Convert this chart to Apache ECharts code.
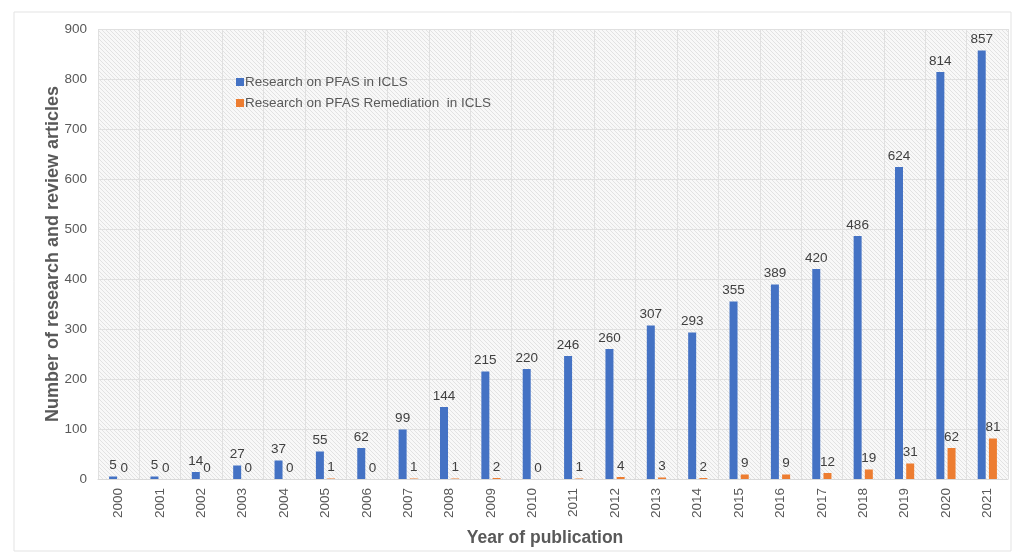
<!DOCTYPE html>
<html>
<head>
<meta charset="utf-8">
<script src="https://cdn.jsdelivr.net/npm/echarts@6/dist/echarts.min.js"></script>
<style>
  html, body { margin: 0; padding: 0; background: #fff; }
  #chart { width: 1025px; height: 558px; }
</style>
</head>
<body>
<div id="chart"></div>
<script>
"use strict";

var years = ['2000','2001','2002','2003','2004','2005','2006','2007','2008','2009','2010',
             '2011','2012','2013','2014','2015','2016','2017','2018','2019','2020','2021'];
var pfasIcls = [5, 5, 14, 27, 37, 55, 62, 99, 144, 215, 220, 246, 260, 307, 293, 355, 389, 420, 486, 624, 814, 857];
var pfasRemediation = [0, 0, 0, 0, 0, 1, 0, 1, 1, 2, 0, 1, 4, 3, 2, 9, 9, 12, 19, 31, 62, 81];

// light diagonal hatch for the plot area
function makeHatch() {
    var c = document.createElement('canvas');
    c.width = 4;
    c.height = 4;
    var ctx = c.getContext('2d');
    ctx.fillStyle = '#f8f8f8';
    ctx.fillRect(0, 0, 4, 4);
    ctx.strokeStyle = '#e2e2e2';
    ctx.lineWidth = 1;
    ctx.beginPath();
    ctx.moveTo(0, 0); ctx.lineTo(4, 4);
    ctx.moveTo(-1, 3); ctx.lineTo(1, 5);
    ctx.moveTo(3, -1); ctx.lineTo(5, 1);
    ctx.stroke();
    return c;
}

var chart = echarts.init(document.getElementById('chart'));

var labelStyle = {
    show: true,
    position: 'top',
    distance: 4,
    color: '#404040',
    fontSize: 13.5,
    fontFamily: 'Liberation Sans'
};

var option = {
    animation: false,
    textStyle: { fontFamily: 'Liberation Sans' },
    graphic: [{
        type: 'rect',
        shape: { x: 14, y: 12, width: 997, height: 539 },
        style: { fill: 'none', stroke: '#e3e3e3', lineWidth: 1 },
        z: -10
    }],
    grid: {
        left: 98,
        right: 17,
        top: 29,
        bottom: 79,
        show: true,
        borderWidth: 0,
        backgroundColor: { image: makeHatch(), repeat: 'repeat' }
    },
    legend: {
        orient: 'vertical',
        left: 231,
        top: 70,
        itemWidth: 8,
        itemHeight: 8,
        itemGap: 7,
        icon: 'rect',
        textStyle: { color: '#595959', fontSize: 13.5, padding: [0, 0, 0, -4] },
        data: ['Research on PFAS in ICLS', 'Research on PFAS Remediation  in ICLS']
    },
    xAxis: {
        type: 'category',
        data: years,
        name: 'Year of publication',
        nameLocation: 'middle',
        nameGap: 50,
        nameMoveOverlap: false,
        nameTextStyle: { color: '#595959', fontSize: 17.5, fontWeight: 'bold', padding: [0, 16, 0, 0] },
        axisLine: { lineStyle: { color: '#d9d9d9' } },
        axisTick: { show: false },
        axisLabel: { rotate: 90, color: '#595959', fontSize: 13.5, margin: 9 },
        splitLine: { show: true, interval: 0, lineStyle: { color: '#e0e0e0' } }
    },
    yAxis: {
        type: 'value',
        min: 0,
        max: 900,
        interval: 100,
        name: 'Number of research and review articles',
        nameLocation: 'middle',
        nameGap: 36,
        nameMoveOverlap: false,
        nameTextStyle: { color: '#595959', fontSize: 18, fontWeight: 'bold' },
        axisLine: { show: false },
        axisTick: { show: false },
        axisLabel: { color: '#595959', fontSize: 13.5, margin: 11 },
        splitLine: { lineStyle: { color: '#e0e0e0' } }
    },
    series: [
        {
            name: 'Research on PFAS in ICLS',
            type: 'bar',
            data: pfasIcls,
            barWidth: 8,
            barGap: '40%',
            itemStyle: { color: '#4472C4' },
            label: labelStyle
        },
        {
            name: 'Research on PFAS Remediation  in ICLS',
            type: 'bar',
            data: pfasRemediation,
            barWidth: 8,
            itemStyle: { color: '#ED7D31' },
            label: labelStyle
        }
    ]
};

chart.setOption(option);
</script>
</body>
</html>
